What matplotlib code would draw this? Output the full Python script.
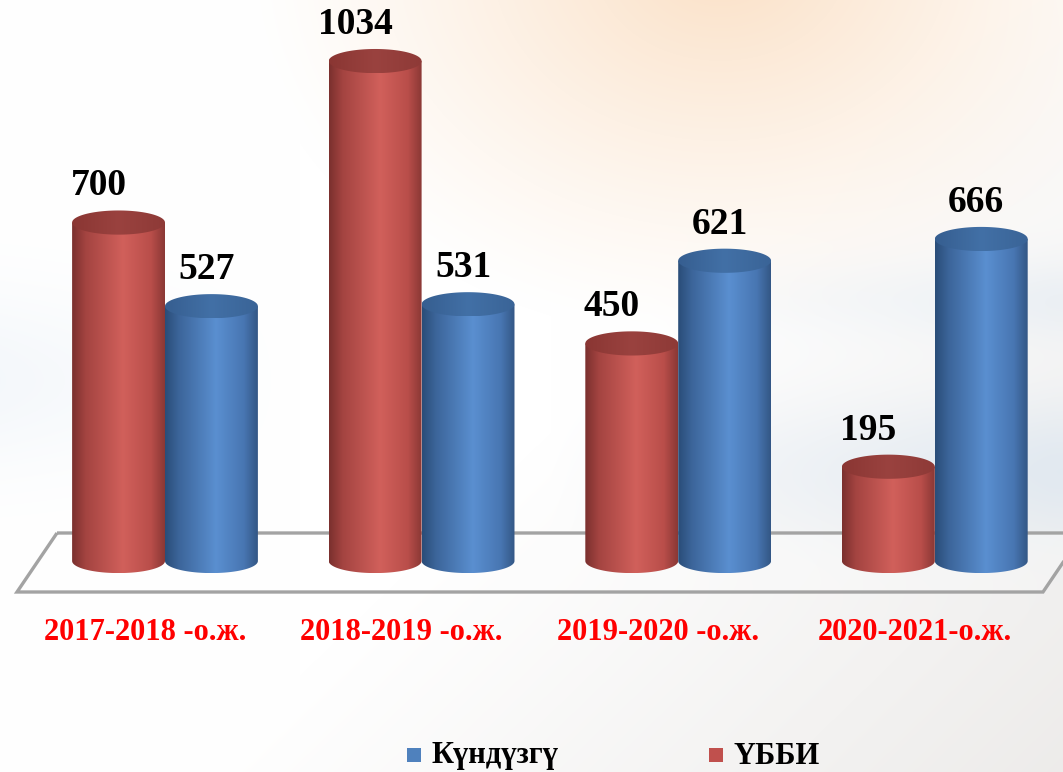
import numpy as np
import matplotlib
matplotlib.use("Agg")
import matplotlib.pyplot as plt
from matplotlib.colors import LinearSegmentedColormap
from matplotlib.patches import Polygon, Rectangle, PathPatch
from matplotlib.path import Path
import matplotlib.transforms as mtransforms

plt.rcParams['font.family'] = ['Liberation Serif', 'DejaVu Serif']

# data
years = ['2017-2018 -о.ж.', '2018-2019 -о.ж.', '2019-2020 -о.ж.', '2020-2021-о.ж.']
ubbi = [700, 1034, 450, 195]
kunduzgu = [527, 531, 621, 666]
series_names = ['Күндүзгү', 'ҮББИ']

W, H = 1063, 772
fig = plt.figure(figsize=(W / 100, H / 100), dpi=100)

# background gradient
bg = fig.add_axes([0, 0, 1, 1], zorder=-5)
yy, xx = np.mgrid[0:H, 0:W]
img = np.ones((H, W, 3))
peach = np.array([0.98, 0.86, 0.74])
d = np.sqrt(((xx - 720) / 480.0) ** 2 + ((yy + 40) / 380.0) ** 2)
wp = np.clip(1 - d, 0, 1) ** 1.2 * 0.85
img = img * (1 - wp[..., None]) + peach * wp[..., None]
gray = np.array([0.88, 0.87, 0.86])
wg = np.clip((xx / W) * 0.8 + (yy / H) * 0.6 - 0.75, 0, 1) * 0.9
img = img * (1 - wg[..., None]) + gray * wg[..., None]
blue = np.array([0.84, 0.89, 0.94])
wb = np.exp(-((yy - 470) / 70.0) ** 2) * np.clip((xx - 550) / 500.0, 0, 1) * 0.6
wb += np.exp(-((yy - 300) / 40.0) ** 2) * np.clip((xx - 650) / 400.0, 0, 1) * 0.35
wb += np.exp(-((yy - 380) / 90.0) ** 2) * np.clip((300 - xx) / 300.0, 0, 1) * 0.25
img = img * (1 - wb[..., None]) + blue * wb[..., None]
bg.imshow(img, aspect='auto', extent=(0, 1, 0, 1))
bg.axis('off')

ax = fig.add_axes([0, 0, 1, 1])
ax.set_xlim(-0.643, 3.4996)
ax.set_ylim(-436.4, 1160.3)
ax.axis('off')


def fp(px, py):
    return (px / W, 1 - py / H)


# floor
corners = [fp(57, 533), fp(1083, 533), fp(1043, 592), fp(17, 592)]
ax.add_patch(Polygon(corners, closed=True, transform=fig.transFigure,
                     facecolor='white', alpha=0.3, edgecolor='none', zorder=1))
ax.add_patch(Polygon(corners, closed=True, transform=fig.transFigure,
                     facecolor='none', edgecolor='#a3a3a3', lw=2.4, zorder=1.1))

red_cm = LinearSegmentedColormap.from_list('r', [(0, '#7a302e'), (0.15, '#a44441'),
                                                  (0.55, '#d1605b'), (0.85, '#b94e4a'),
                                                  (1, '#8a3835')])
blue_cm = LinearSegmentedColormap.from_list('b', [(0, '#2a4d78'), (0.15, '#3c659a'),
                                                   (0.55, '#5a8fd0'), (0.85, '#4876b2'),
                                                   (1, '#335785')])
red_top = LinearSegmentedColormap.from_list('rt', ['#8a3633', '#9a423f', '#8e3a37'])
blue_top = LinearSegmentedColormap.from_list('bt', ['#365e90', '#4270a6', '#3a6497'])

width = 0.362
ry = 25.0
grad = np.linspace(0, 1, 256).reshape(1, -1)


def cylinder(xc, v, cm, cm_top, z):
    x0, x1 = xc - width / 2, xc + width / 2
    t = np.linspace(np.pi, 2 * np.pi, 60)
    bottom = np.column_stack([xc + width / 2 * np.cos(t), ry * np.sin(t)])
    verts = np.vstack([[x0, v], [x0, 0], bottom, [x1, 0], [x1, v], [x0, v]])
    clip = PathPatch(Path(verts), facecolor='none', edgecolor='none')
    ax.add_patch(clip)
    im = ax.imshow(grad, cmap=cm, aspect='auto', extent=(x0, x1, -ry, v),
                   zorder=z, interpolation='bilinear')
    im.set_clip_path(clip)
    tt = np.linspace(0, 2 * np.pi, 100)
    top = np.column_stack([xc + width / 2 * np.cos(tt), v + ry * np.sin(tt)])
    clip2 = PathPatch(Path(top), facecolor='none', edgecolor='none')
    ax.add_patch(clip2)
    im2 = ax.imshow(grad, cmap=cm_top, aspect='auto',
                    extent=(x0, x1, v - ry, v + ry), zorder=z + 0.1,
                    interpolation='bilinear')
    im2.set_clip_path(clip2)


for i in range(len(years)):
    xr = i - width / 2
    xb = i + width / 2
    cylinder(xr, ubbi[i], red_cm, red_top, 3)
    cylinder(xb, kunduzgu[i], blue_cm, blue_top, 4)
    ax.annotate(str(ubbi[i]), (xr, ubbi[i]), xytext=(-14.4, 19.5),
                textcoords='offset points', ha='center', va='baseline',
                fontsize=27, fontweight='bold', color='black', zorder=6)
    ax.annotate(str(kunduzgu[i]), (xb, kunduzgu[i]), xytext=(-3.6, 19.5),
                textcoords='offset points', ha='center', va='baseline',
                fontsize=27, fontweight='bold', color='black', zorder=6)

trans = mtransforms.blended_transform_factory(ax.transData, fig.transFigure)
for i, lab in enumerate(years):
    ax.text(i - 0.078, 1 - 632 / H, lab, transform=trans, ha='center',
            va='center', fontsize=22, fontweight='bold', color='#ff0000')

# legend
leg_colors = ['#4f81bd', '#c0504d']
leg_x = [407, 709]
for name, c, lx in zip(series_names, leg_colors, leg_x):
    fig.patches.append(Rectangle(fp(lx, 762), 14 / W, 14 / H,
                                 transform=fig.transFigure, facecolor=c,
                                 edgecolor='none'))
    fig.text((lx + 24) / W, 1 - 756 / H, name, ha='left', va='center',
             fontsize=22, fontweight='bold', color='black')

fig.savefig('out.png', dpi=100)
